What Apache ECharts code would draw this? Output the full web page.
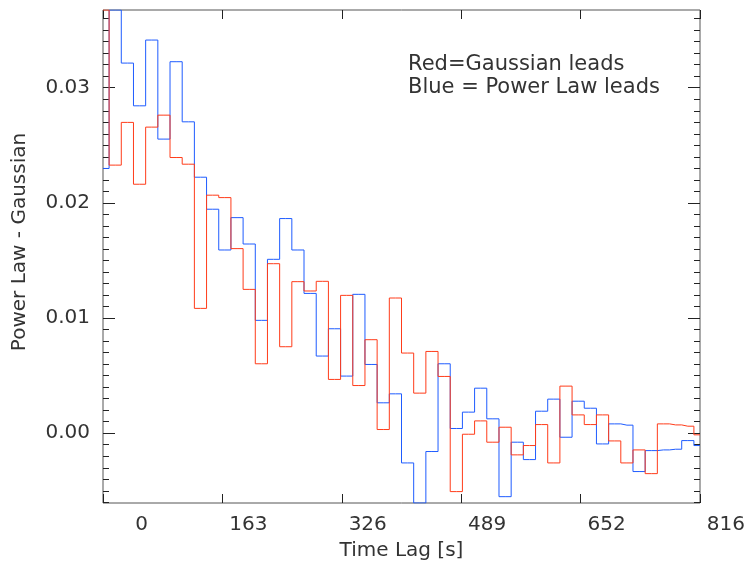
<!DOCTYPE html>
<html><head><meta charset="utf-8">
<script src="https://cdn.jsdelivr.net/npm/echarts@6/dist/echarts.min.js"></script>
<style>html,body{margin:0;padding:0;background:#fff}#c{width:752px;height:575px}</style>
</head><body><div id="c"></div>
<script>
// Time lag bin centres [s]
const lags = [0, 16.7, 33.3, 50.0, 66.6, 83.3, 99.9, 116.6, 133.2, 149.9,
  166.5, 183.2, 199.8, 216.5, 233.1, 249.8, 266.4, 283.1, 299.8, 316.4,
  333.1, 349.7, 366.4, 383.0, 399.7, 416.3, 433.0, 449.6, 466.3, 482.9,
  499.6, 516.2, 532.9, 549.6, 566.2, 582.9, 599.5, 616.2, 632.8, 649.5,
  666.1, 682.8, 699.4, 716.1, 732.7, 749.4, 766.0, 782.7, 799.3, 816.0];
// Blue = Power Law leads
const blueValues = [0.02299, 0.03675, 0.03214, 0.02843, 0.03414, 0.02554, 0.03226, 0.02704, 0.02223, 0.01945,
  0.01591, 0.01872, 0.01643, 0.00980, 0.01510, 0.01864, 0.01591, 0.01214, 0.00670, 0.00907,
  0.00496, 0.01206, 0.00597, 0.00264, 0.00342, -0.00258, -0.00606, -0.00159, 0.00603, 0.00041,
  0.00183, 0.00391, 0.00125, -0.00551, -0.00078, -0.00229, 0.00191, 0.00296, -0.00035, 0.00278,
  0.00217, -0.00093, 0.00081, 0.00070, -0.00333, -0.00151, -0.00145, -0.00139, -0.00064, -0.00107];
// Red = Gaussian leads
const redValues = [0.03675, 0.02328, 0.02699, 0.02162, 0.02658, 0.02762, 0.02394, 0.02336, 0.01084, 0.02067,
  0.02046, 0.01603, 0.01249, 0.00603, 0.01472, 0.00751, 0.01316, 0.01235, 0.01319, 0.00467,
  0.01197, 0.00414, 0.00812, 0.00032, 0.01174, 0.00696, 0.00348, 0.00710, 0.00493, -0.00507,
  -0.00009, 0.00107, -0.00078, 0.00052, -0.00188, -0.00107, 0.00075, -0.00258, 0.00409, 0.00159,
  0.00075, 0.00159, -0.00067, -0.00258, -0.00145, -0.00351, 0.00081, 0.00072, 0.00061, -0.00014];

const xTickValues = [0, 163.2, 326.4, 489.6, 652.8, 816];
const xTickLabels = ['0', '163', '326', '489', '652', '816'];
const yTickValues = [0, 0.01, 0.02, 0.03];
const yTickLabels = ['0.00', '0.01', '0.02', '0.03'];
const xRange = [0, 816];
const yRange = [-0.00606, 0.03675];

const font = 'DejaVu Sans';
const txt = '#333333';
const tickColor = '#222222';
const minorY = [];
for (let k = -6; k <= 36; k++) minorY.push(k / 1000);

function nearestLabel(v, vals, labels) {
  let best = 0;
  for (let i = 1; i < vals.length; i++) if (Math.abs(vals[i] - v) < Math.abs(vals[best] - v)) best = i;
  return labels[best];
}

const chart = echarts.init(document.getElementById('c'), null, {renderer: 'canvas'});
const baseY = {type: 'value', min: yRange[0], max: yRange[1], splitLine: {show: false}, axisLine: {show: false, onZero: false}};
const option = {
  animation: false,
  backgroundColor: '#ffffff',
  grid: {left: 103, top: 10, right: 52, bottom: 72, show: true, borderColor: '#555555', borderWidth: 1},
  xAxis: [
    {type: 'value', position: 'bottom', min: xRange[0], max: xRange[1],
      splitLine: {show: false}, axisLine: {show: false, onZero: false},
      axisTick: {show: true, inside: true, length: 9, customValues: xTickValues, lineStyle: {color: tickColor}},
      axisLabel: {show: true, customValues: xTickValues, align: 'left', margin: 12,
        formatter: v => '{v|' + nearestLabel(v, xTickValues, xTickLabels) + '}',
        rich: {v: {width: 45, align: 'right', fontFamily: font, fontSize: 20, color: txt}}},
      name: 'Time Lag [s]', nameLocation: 'middle', nameGap: 38,
      nameTextStyle: {fontFamily: font, fontSize: 20, color: txt, verticalAlign: 'top'}},
    {type: 'value', position: 'top', min: xRange[0], max: xRange[1],
      splitLine: {show: false}, axisLine: {show: false, onZero: false},
      axisTick: {show: true, inside: true, length: 9, customValues: xTickValues, lineStyle: {color: tickColor}},
      axisLabel: {show: false}}
  ],
  yAxis: [
    Object.assign({}, baseY, {position: 'left',
      axisTick: {show: true, inside: true, length: 12, customValues: yTickValues, lineStyle: {color: tickColor}},
      axisLabel: {show: true, customValues: yTickValues, margin: 13,
        formatter: v => nearestLabel(v, yTickValues, yTickLabels),
        fontFamily: font, fontSize: 20, color: txt}}),
    Object.assign({}, baseY, {position: 'left',
      axisTick: {show: true, inside: true, length: 6, customValues: minorY, lineStyle: {color: tickColor}},
      axisLabel: {show: false}}),
    Object.assign({}, baseY, {position: 'right',
      axisTick: {show: true, inside: true, length: 12, customValues: yTickValues, lineStyle: {color: tickColor}},
      axisLabel: {show: false}}),
    Object.assign({}, baseY, {position: 'right',
      axisTick: {show: true, inside: true, length: 6, customValues: minorY, lineStyle: {color: tickColor}},
      axisLabel: {show: false}})
  ],
  graphic: [
    {type: 'text', left: 408, top: 53, z: 10,
      style: {text: 'Red=Gaussian leads\nBlue = Power Law leads', fontFamily: font, fontSize: 21, fill: txt, lineHeight: 23}},
    {type: 'text', x: 20, y: 242, rotation: Math.PI / 2, z: 10,
      style: {text: 'Power Law - Gaussian', fontFamily: font, fontSize: 20, fill: txt, align: 'center', verticalAlign: 'middle'}}
  ],
  series: [
    {name: 'Blue = Power Law leads', type: 'line', step: 'middle', xAxisIndex: 0, yAxisIndex: 0,
      showSymbol: false, symbol: 'none', clip: true,
      lineStyle: {color: '#1f5cff', width: 1}, itemStyle: {color: '#1f5cff'},
      data: lags.map((x, i) => [x, blueValues[i]])},
    {name: 'Red=Gaussian leads', type: 'line', step: 'middle', xAxisIndex: 0, yAxisIndex: 0,
      showSymbol: false, symbol: 'none', clip: true,
      lineStyle: {color: '#ff3c1a', width: 1}, itemStyle: {color: '#ff3c1a'},
      data: lags.map((x, i) => [x, redValues[i]])}
  ]
};
chart.setOption(option);
</script>
</body></html>
